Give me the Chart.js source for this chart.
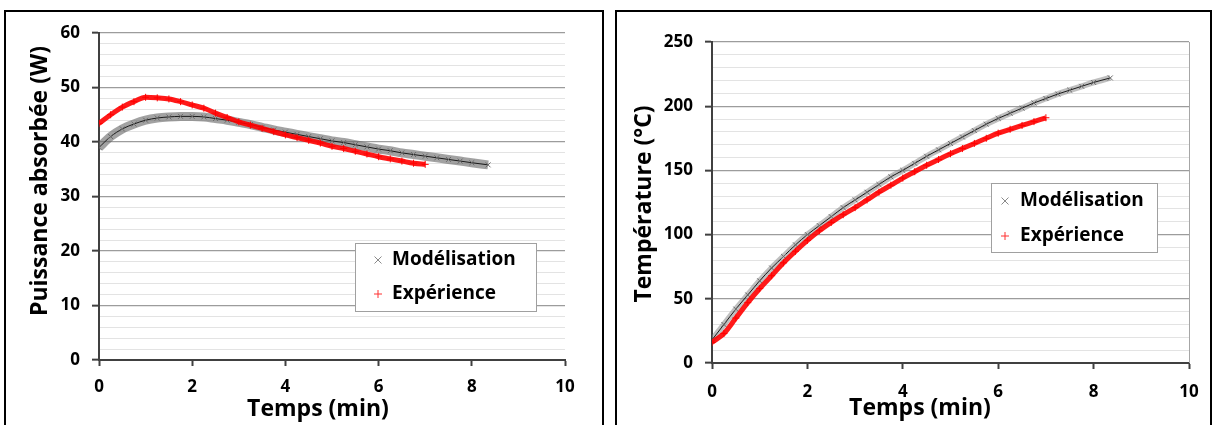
<!DOCTYPE html>
<html><head><meta charset="utf-8">
<script src="https://cdn.jsdelivr.net/npm/chart.js@4.4.1/dist/chart.umd.min.js"></script>
<style>
html,body{margin:0;padding:0;background:#fff;}
body{width:1213px;height:425px;position:relative;overflow:hidden;}
.panel{position:absolute;border:2px solid #000;box-sizing:border-box;background:#fff;}
canvas{position:absolute;top:0;}
</style></head><body>
<div class="panel" style="left:4px;top:10px;width:600px;height:430px"></div>
<div class="panel" style="left:615px;top:10px;width:597px;height:430px"></div>
<canvas id="c1" width="608" height="425" style="left:0px"></canvas>
<canvas id="c2" width="605" height="425" style="left:608px"></canvas>
<script>
// ---- data ----
const seriesLabels = ['Modélisation', 'Expérience'];
const xTicks = [0, 2, 4, 6, 8, 10];
const powerTicks = [0, 10, 20, 30, 40, 50, 60];
const tempTicks = [0, 50, 100, 150, 200, 250];

const modelTime = [0,0.25,0.5,0.75,1,1.25,1.5,1.75,2,2.25,2.5,2.75,3,3.25,3.5,3.75,4,4.25,4.5,4.75,5,5.25,5.5,5.75,6,6.25,6.5,6.75,7,7.25,7.5,7.75,8,8.35];
const expTime = [0,0.25,0.5,0.75,1,1.25,1.5,1.75,2,2.25,2.5,2.75,3,3.25,3.5,3.75,4,4.25,4.5,4.75,5,5.25,5.5,5.75,6,6.25,6.5,6.75,7];

const powerModel = [39.0,41.0,42.4,43.3,44.0,44.4,44.6,44.7,44.7,44.6,44.3,44.0,43.6,43.2,42.7,42.2,41.8,41.4,41.0,40.6,40.2,39.9,39.5,39.1,38.7,38.4,38.0,37.7,37.4,37.1,36.8,36.5,36.2,35.8];
const powerExp = [43.4,45.0,46.4,47.4,48.2,48.1,47.9,47.4,46.8,46.2,45.3,44.5,43.7,43.1,42.5,41.9,41.3,40.8,40.3,39.8,39.2,38.8,38.3,37.8,37.3,36.9,36.5,36.1,35.9];

const tempModel = [18,30,42,53,64,74,83,92,100,107,114,121,127,133,139,145,150,155.5,161,166,171,176,181,186,190.5,194.5,198.5,202.5,206,209.5,212.5,215.5,218.5,222];
const tempExp = [16,23,35,47,58,68,78,87,95.5,103,109.5,115.5,121,127,133,138.5,144,149,154,158.5,163,167,171,175,179,182,185,188,191];

// ---- helpers ----
const FONT = '"Open Sans", "Liberation Sans", sans-serif';
const pts = (t, v) => v.map((y, i) => ({x: t[i], y}));

const overlayPlugin = {
  id: 'overlay',
  afterDraw(chart, args, o) {
    const ctx = chart.ctx;
    const ca = chart.chartArea;
    ctx.save();
    if (o.rightBorder) {
      ctx.strokeStyle = '#a6a6a6'; ctx.lineWidth = 1;
      ctx.beginPath(); ctx.moveTo(Math.round(ca.right) + 0.5, ca.top); ctx.lineTo(Math.round(ca.right) + 0.5, ca.bottom); ctx.stroke();
    }
    // axis titles
    ctx.fillStyle = '#000';
    ctx.font = 'bold 23px ' + FONT;
    ctx.textAlign = 'center'; ctx.textBaseline = 'middle';
    ctx.fillText(o.xTitle.text, o.xTitle.x, o.xTitle.y);
    ctx.save();
    ctx.translate(o.yTitle.x, o.yTitle.y); ctx.rotate(-Math.PI / 2);
    ctx.fillText(o.yTitle.text, 0, 0);
    ctx.restore();
    // legend
    const L = o.legend;
    ctx.fillStyle = '#fff';
    ctx.fillRect(L.left, L.top, L.right - L.left, L.bottom - L.top);
    ctx.strokeStyle = '#a0a0a0'; ctx.lineWidth = 1;
    ctx.strokeRect(L.left + 0.5, L.top + 0.5, L.right - L.left, L.bottom - L.top);
    const ds = chart.data.datasets;
    const entries = [ds.find(d => d.label === seriesLabels[0]), ds.find(d => d.label === seriesLabels[1])];
    entries.forEach((d, i) => {
      const y = L.rows[i];
      ctx.strokeStyle = d.legendColor; ctx.lineWidth = 1;
      ctx.beginPath();
      if (d.legendStyle === 'crossRot') {
        ctx.moveTo(L.markerX - 3.5, y - 3.5); ctx.lineTo(L.markerX + 3.5, y + 3.5);
        ctx.moveTo(L.markerX + 3.5, y - 3.5); ctx.lineTo(L.markerX - 3.5, y + 3.5);
      } else {
        ctx.moveTo(L.markerX - 4, y); ctx.lineTo(L.markerX + 4, y);
        ctx.moveTo(L.markerX, y - 4); ctx.lineTo(L.markerX, y + 4);
      }
      ctx.stroke();
      ctx.fillStyle = '#000';
      ctx.font = 'bold 19px ' + FONT;
      ctx.textAlign = 'left'; ctx.textBaseline = 'middle';
      ctx.fillText(d.label, L.textX, y);
    });
    ctx.restore();
  }
};

function makeChart(id, cfg) {
  const major = cfg.majors;
  const datasets = [
    {label: seriesLabels[1], legendStyle: 'cross', legendColor: '#ff3030', data: pts(cfg.expT, cfg.exp), showLine: true, borderColor: 'rgba(255,0,0,0.9)', borderWidth: cfg.expBand, pointRadius: 0, cubicInterpolationMode: 'monotone'},
    {label: seriesLabels[1] + ' ', data: pts(cfg.expT, cfg.exp), showLine: false, pointStyle: 'cross', pointRadius: 3.5, pointBorderColor: '#ff0000', pointBorderWidth: 1, borderColor: '#ff0000'},
    {label: seriesLabels[0] + ' ', data: pts(cfg.modelT, cfg.model), showLine: true, borderColor: '#1a1a1a', borderWidth: 1, pointStyle: 'crossRot', pointRadius: 3.5, pointBorderColor: '#6a6a6a', pointBorderWidth: 1, cubicInterpolationMode: 'monotone'},
    {label: seriesLabels[0], legendStyle: 'crossRot', legendColor: '#8a8a8a', data: pts(cfg.modelT, cfg.model), showLine: true, borderColor: cfg.modelBandColor, borderWidth: cfg.modelBand, pointRadius: 0, cubicInterpolationMode: 'monotone'}
  ];
  return new Chart(document.getElementById(id), {
    type: 'scatter',
    data: {datasets},
    options: {
      responsive: false,
      animation: false,
      events: [],
      layout: {padding: {left: 0, top: cfg.area.top, right: cfg.width - cfg.area.right, bottom: 0}},
      plugins: {legend: {display: false}, tooltip: {enabled: false}, overlay: cfg.overlay},
      scales: {
        x: {
          type: 'linear', min: 0, max: 10,
          afterFit: s => { s.height = 425 - cfg.area.bottom; },
          afterBuildTicks: s => { s.ticks = xTicks.map(v => ({value: v})); },
          ticks: {autoSkip: false, maxRotation: 0, padding: cfg.xPad, color: '#000', font: {family: FONT, size: 17, weight: 'bold'}},
          grid: {drawOnChartArea: false, drawTicks: true, tickLength: 6, tickColor: '#404040', tickWidth: 2},
          border: {display: true, color: '#404040', width: 2}
        },
        y: {
          type: 'linear', min: 0, max: cfg.yMax,
          afterFit: s => { s.width = cfg.area.left; },
          ticks: {stepSize: cfg.minorStep, autoSkip: false, padding: 12, color: '#000',
                  font: {family: FONT, size: 17, weight: 'bold'},
                  callback: v => major.includes(v) ? String(v) : ''},
          grid: {
            drawTicks: true, tickLength: 7, tickWidth: 2,
            color: c => major.includes(c.tick.value) ? '#9c9c9c' : '#e3e3e3',
            lineWidth: c => major.includes(c.tick.value) ? 1.3 : 1,
            tickColor: c => major.includes(c.tick.value) ? '#404040' : 'rgba(0,0,0,0)'
          },
          border: {display: true, color: '#404040', width: 2}
        }
      }
    },
    plugins: [overlayPlugin]
  });
}

makeChart('c1', {
  width: 608, area: {left: 99, right: 565, top: 33, bottom: 360},
  yMax: 60, minorStep: 2, majors: powerTicks, xPad: 11,
  modelT: modelTime, model: powerModel, expT: expTime, exp: powerExp,
  modelBand: 9, modelBandColor: 'rgba(100,100,100,0.6)', expBand: 5,
  overlay: {
    rightBorder: false,
    xTitle: {text: 'Temps (min)', x: 318, y: 409},
    yTitle: {text: 'Puissance absorbée (W)', x: 40, y: 181},
    legend: {left: 355, top: 243, right: 536, bottom: 311, rows: [260, 294], markerX: 378, textX: 392}
  }
});

makeChart('c2', {
  width: 605, area: {left: 104, right: 581, top: 42, bottom: 363},
  yMax: 250, minorStep: 10, majors: tempTicks, xPad: 13,
  modelT: modelTime, model: tempModel, expT: expTime, exp: tempExp,
  modelBand: 6, modelBandColor: 'rgba(140,140,140,0.55)', expBand: 5,
  overlay: {
    rightBorder: true,
    xTitle: {text: 'Temps (min)', x: 312, y: 408},
    yTitle: {text: 'Température (°C)', x: 36, y: 204},
    legend: {left: 383, top: 183, right: 549, bottom: 252, rows: [201, 236], markerX: 397, textX: 412}
  }
});
</script>
</body></html>
